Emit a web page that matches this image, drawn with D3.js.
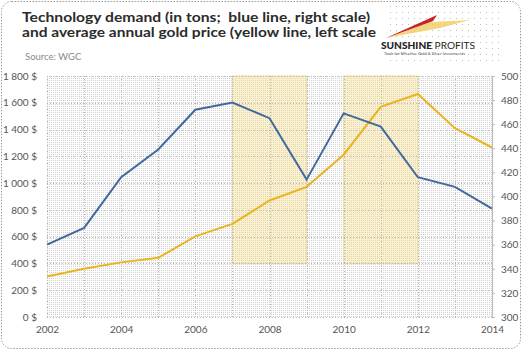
<!DOCTYPE html>
<html>
<head>
<meta charset="utf-8">
<script src="https://cdn.jsdelivr.net/npm/d3@7"></script>
<style>
  body { margin: 0; background: #fff; }
  svg { display: block; font-family: Lato, "Open Sans", sans-serif; }
  .title text { white-space: pre; }
</style>
</head>
<body>
<svg id="chart" width="522" height="351"></svg>
<script>
// Data
const years = [2002, 2003, 2004, 2005, 2006, 2007, 2008, 2009, 2010, 2011, 2012, 2013, 2014];
const goldPrice = [302, 360, 408, 442, 602, 695, 870, 972, 1212, 1570, 1666, 1410, 1266]; // left, $
const techDemand = [360, 374, 416, 439, 472, 478, 465, 414, 469, 458, 416, 408, 390]; // right, tons
const shadedPeriods = [[2007, 2009], [2010, 2012]];
const shadeRange = [400, 1800];
const leftTicks = [0, 200, 400, 600, 800, 1000, 1200, 1400, 1600, 1800];
const rightTicks = [300, 320, 340, 360, 380, 400, 420, 440, 460, 480, 500];
const xTicks = [2002, 2004, 2006, 2008, 2010, 2012, 2014];

const width = 522, height = 351;
const margin = { top: 76, right: 30, bottom: 34, left: 47 };
const innerW = width - margin.left - margin.right;
const innerH = height - margin.top - margin.bottom;

const svg = d3.select('#chart');
const defs = svg.append('defs');

// stipple texture used in the plot area and behind the logo
defs.append('pattern')
  .attr('id', 'dots')
  .attr('width', 2).attr('height', 2)
  .attr('patternUnits', 'userSpaceOnUse')
  .append('rect')
  .attr('width', 1).attr('height', 1)
  .attr('fill', '#d2d2d2');

defs.append('pattern')
  .attr('id', 'logoDots')
  .attr('width', 6).attr('height', 6)
  .attr('patternUnits', 'userSpaceOnUse')
  .append('rect')
  .attr('width', 1).attr('height', 1)
  .attr('fill', '#bbbbbb');

// outer dotted frame
svg.append('rect')
  .attr('x', 1.5).attr('y', 1.5)
  .attr('width', width - 3).attr('height', height - 4)
  .attr('rx', 10)
  .attr('fill', 'none')
  .attr('stroke', '#9a9a9a')
  .attr('stroke-dasharray', '1.5,1.5');

// title block
const title = svg.append('g').attr('class', 'title')
  .attr('fill', '#2b2b2b').attr('font-weight', 700).attr('font-size', 13.5);
title.append('text').attr('x', 22).attr('y', 22)
  .attr('textLength', 348).attr('lengthAdjust', 'spacingAndGlyphs')
  .text('Technology demand (in tons;  blue line, right scale)');
title.append('text').attr('x', 22).attr('y', 37)
  .attr('textLength', 354).attr('lengthAdjust', 'spacingAndGlyphs')
  .text('and average annual gold price (yellow line, left scale');

svg.append('text')
  .attr('x', 25).attr('y', 60)
  .attr('font-size', 9.5)
  .attr('fill', '#8a8a8a')
  .text('Source: WGC');

// logo
const logo = svg.append('g');
logo.append('rect')
  .attr('x', 386).attr('y', 6)
  .attr('width', 116).attr('height', 58)
  .attr('fill', 'url(#logoDots)');
logo.append('path')
  .attr('d', 'M386,38 L437,16 L431,22 L470,20 L440,28 Z')
  .attr('fill', '#f2cf6a').attr('opacity', 0.85);
logo.append('path')
  .attr('d', 'M386,38 L437,15 L433,21 Z')
  .attr('fill', '#c8202c');
logo.append('text')
  .attr('x', 381).attr('y', 49)
  .attr('font-size', 9.5)
  .attr('fill', '#1f1f1f')
  .attr('textLength', 94).attr('lengthAdjust', 'spacingAndGlyphs')
  .html('<tspan font-weight="900">SUNSHINE</tspan> PROFITS');
logo.append('text')
  .attr('x', 384).attr('y', 54.5)
  .attr('font-size', 3.6)
  .attr('fill', '#555')
  .attr('textLength', 81).attr('lengthAdjust', 'spacingAndGlyphs')
  .text('Tools for Effective Gold & Silver Investments');

// scales
const x = d3.scaleLinear().domain([2002, 2014]).range([0, innerW]);
const yLeft = d3.scaleLinear().domain([0, 1800]).range([innerH, 0]);
const yRight = d3.scaleLinear().domain([300, 500]).range([innerH, 0]);

const g = svg.append('g').attr('transform', `translate(${margin.left},${margin.top})`);

g.append('rect')
  .attr('width', innerW).attr('height', innerH)
  .attr('fill', 'url(#dots)');

// shaded periods
g.selectAll('rect.shade')
  .data(shadedPeriods)
  .join('rect')
  .attr('class', 'shade')
  .attr('x', d => x(d[0]))
  .attr('width', d => x(d[1]) - x(d[0]))
  .attr('y', yLeft(shadeRange[1]))
  .attr('height', yLeft(shadeRange[0]) - yLeft(shadeRange[1]))
  .attr('fill', '#f5dd8c')
  .attr('fill-opacity', 0.42)
  .attr('stroke', '#f0dc9c')
  .attr('stroke-width', 1);

// gridlines
g.selectAll('line.hgrid')
  .data(leftTicks)
  .join('line')
  .attr('class', 'hgrid')
  .attr('x1', 0).attr('x2', innerW)
  .attr('y1', d => Math.round(yLeft(d)) + 0.5)
  .attr('y2', d => Math.round(yLeft(d)) + 0.5)
  .attr('stroke', '#b5b5b5')
  .attr('stroke-dasharray', '1,2');

g.selectAll('line.vgrid')
  .data(years.slice(0, -1))
  .join('line')
  .attr('class', 'vgrid')
  .attr('x1', d => Math.round(x(d)) + 0.5)
  .attr('x2', d => Math.round(x(d)) + 0.5)
  .attr('y1', 0).attr('y2', innerH)
  .attr('stroke', '#b5b5b5')
  .attr('stroke-dasharray', '1,2');

// axes
const axisText = sel => sel.selectAll('text')
  .attr('fill', '#555')
  .attr('font-size', 10)
  .attr('font-family', 'Lato, sans-serif');

const leftAxis = g.append('g')
  .call(d3.axisLeft(yLeft)
    .tickValues(leftTicks)
    .tickSize(0)
    .tickPadding(10)
    .tickFormat(d => d3.format(',')(d).replace(',', ' ') + ' $'));
leftAxis.select('.domain').remove();
leftAxis.call(axisText);

const rightAxis = g.append('g')
  .attr('transform', `translate(${innerW},0)`)
  .call(d3.axisRight(yRight).tickValues(rightTicks).tickSize(3).tickPadding(6));
rightAxis.select('.domain').attr('stroke', '#bdbdbd').attr('stroke-width', 1.2);
rightAxis.selectAll('.tick line').attr('stroke', '#bdbdbd');
rightAxis.call(axisText);

const bottomAxis = g.append('g')
  .attr('transform', `translate(0,${innerH})`)
  .call(d3.axisBottom(x).tickValues(xTicks).tickSize(0).tickPadding(9).tickFormat(d3.format('d')));
bottomAxis.select('.domain').remove();
bottomAxis.call(axisText);

// series
const goldLine = d3.line().x((d, i) => x(years[i])).y(d => yLeft(d));
const techLine = d3.line().x((d, i) => x(years[i])).y(d => yRight(d));

g.append('path')
  .datum(goldPrice)
  .attr('d', goldLine)
  .attr('fill', 'none')
  .attr('stroke', '#eab320')
  .attr('stroke-width', 2);

g.append('path')
  .datum(techDemand)
  .attr('d', techLine)
  .attr('fill', 'none')
  .attr('stroke', '#41699d')
  .attr('stroke-width', 2);
</script>
</body>
</html>
